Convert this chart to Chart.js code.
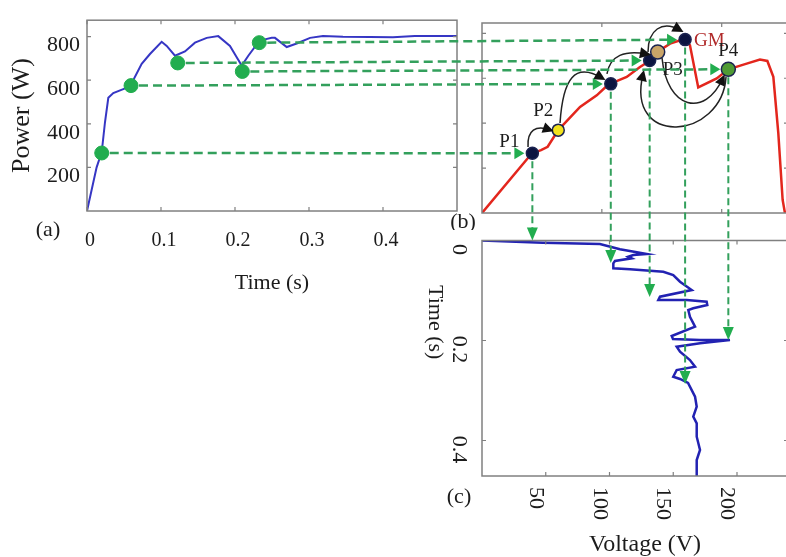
<!DOCTYPE html>
<html>
<head>
<meta charset="utf-8">
<title>MPPT tracking</title>
<script src="https://cdn.jsdelivr.net/npm/chart.js@4.4.1/dist/chart.umd.min.js"></script>
<style>
  html, body { margin: 0; padding: 0; background: #fff; }
  #stage { position: relative; width: 786px; height: 557px; overflow: hidden; }
  #stage canvas { position: absolute; }
</style>
</head>
<body>
<div id="stage">
  <canvas id="chartA" width="470" height="300" style="left:0;top:0"></canvas>
  <canvas id="chartB" width="360" height="230" style="left:440px;top:0"></canvas>
  <canvas id="chartC" width="400" height="331" style="left:400px;top:226px"></canvas>
  <canvas id="overlay" width="786" height="557" style="left:0;top:0"></canvas>
</div>
<script>
// (a) tracked power vs time
const timeA = [0, 0.013, 0.0199, 0.0243, 0.0288, 0.0355, 0.049, 0.0581, 0.0739, 0.0851, 0.1009, 0.1077, 0.1189, 0.1324, 0.1459, 0.1618, 0.1774, 0.1932, 0.2023, 0.2091, 0.218, 0.2293, 0.2405, 0.2496, 0.254, 0.2699, 0.2834, 0.3014, 0.3189, 0.3459, 0.3824, 0.4135, 0.443, 0.5];
const powerA = [0, 200, 270, 407, 519, 541, 559, 571, 675, 720, 776, 757, 712, 732, 772, 794, 802, 757, 705, 667, 712, 764, 787, 794, 794, 752, 768, 794, 802, 799, 798, 797, 802, 802];

// (b) P-V curve under partial shading
const voltB = [0, 39, 46.3, 51.5, 59.8, 76.9, 90, 100.4, 105.6, 113.5, 123.9, 131, 137.5, 147.5, 159.2, 163.1, 169.6, 184.1, 193.2, 207.6, 218, 223.8, 228.5, 232.4, 235.8, 237.6];
const powerB = [0, 265, 280, 295, 369, 472, 524, 579, 587, 606, 650, 676, 717, 754, 776, 747, 559, 599, 640, 665, 683, 677, 606, 356, 58, 0];

// (c) PV voltage vs time
const voltC = [0, 47.6, 92.5, 108.2, 129.2, 118.7, 114.7, 117.4, 104.3, 103, 103, 116.1, 142.2, 150, 155.3, 164.5, 139.6, 138.3, 160.5, 176.2, 176.7, 165.7, 161.8, 163.1, 167.1, 148.8, 149.8, 171, 194.5, 171, 152.7, 155.3, 163.1, 167.1, 152.7, 150, 155.3, 161.6, 167.1, 168.4, 165.7, 168.4, 168.4, 171, 168.4, 168.4];
const timeC = [0, 0.0044, 0.007, 0.0176, 0.027, 0.029, 0.0324, 0.0356, 0.041, 0.0456, 0.0556, 0.0576, 0.0624, 0.069, 0.0824, 0.099, 0.1124, 0.119, 0.119, 0.1224, 0.129, 0.1356, 0.139, 0.1524, 0.1724, 0.191, 0.197, 0.199, 0.199, 0.2056, 0.2124, 0.2224, 0.239, 0.2524, 0.259, 0.2724, 0.277, 0.285, 0.3124, 0.3324, 0.3524, 0.3656, 0.3924, 0.419, 0.439, 0.471];

// operating points linked across the three panels (P1, -, -, GM, P4)
const opVolt = [39.5, 101, 131.5, 159.3, 193.2];
const opPower = [266, 575, 679, 772, 640];
const opTimeA = [0.0199, 0.0595, 0.1226, 0.2328, 0.2099];
const opTimeC = [0, 0.045, 0.113, 0.287, 0.199];

// points marked on the P-V curve
const markVolt = [39.5, 59.8, 101, 131.5, 137.8, 159.3, 193.2];
const markPower = [266, 369, 575, 679, 717, 772, 640];
const markLabel = ['P1', 'P2', '', '', 'P3', 'GM', 'P4'];

// search moves on the P-V curve: start, control 1, control 2, end as (V, P)
const moves = [
  [36.1, 294, 35.3, 370, 42.4, 392, 53.3, 370],
  [61.2, 401, 63.5, 601, 72.9, 672, 94.1, 601],
  [98, 619, 100.4, 703, 112.2, 726, 129.4, 708],
  [130.2, 717, 130.2, 815, 141.2, 859, 155.3, 815],
  [141.2, 690, 145.1, 459, 174.9, 423, 189, 601],
  [191.4, 606, 188.2, 325, 112.2, 289, 126.3, 619]
];

// ticks
const timeTicksA = [0, 0.1, 0.2, 0.3, 0.4];
const powerTicksA = [200, 400, 600, 800];
const voltTicksB = [94, 188];
const powerTicksB = [200, 400, 600, 800];
const voltTicksC = [50, 100, 150, 200];
const timeTicksC = [0, 0.2, 0.4];

const SERIF = "'Liberation Serif', 'Times New Roman', serif";
const INK = '#1c1c1c';
const GREEN = '#22ad4f';
const GREEN_LINE = '#33a05c';
const markFill = ['#0c1440', '#f2e21c', '#0c1440', '#0c1440', '#c9a468', '#0c1440', '#4f9a34'];
const labelShift = { P1: [-23, -11], P2: [-15, -19], P3: [15, 18], GM: [9, 1], P4: [0, -18] };

// box with inward tick marks on all four sides
function framePlugin(xTicks, yTicks) {
  return {
    id: 'frame',
    afterDatasetsDraw(chart) {
      const { ctx, chartArea: a, scales: { x, y } } = chart;
      ctx.save();
      ctx.strokeStyle = '#808080';
      ctx.lineWidth = 1.5;
      ctx.strokeRect(a.left, a.top, a.right - a.left, a.bottom - a.top);
      ctx.lineWidth = 1.2;
      ctx.beginPath();
      xTicks.forEach(v => {
        const px = x.getPixelForValue(v);
        ctx.moveTo(px, a.bottom); ctx.lineTo(px, a.bottom - 4);
        ctx.moveTo(px, a.top); ctx.lineTo(px, a.top + 4);
      });
      yTicks.forEach(v => {
        const py = y.getPixelForValue(v);
        ctx.moveTo(a.left, py); ctx.lineTo(a.left + 4, py);
        ctx.moveTo(a.right, py); ctx.lineTo(a.right - 4, py);
      });
      ctx.stroke();
      ctx.restore();
    }
  };
}

function textPlugin(draw) {
  return { id: 'text', afterDraw(chart) { const ctx = chart.ctx; ctx.save(); draw(ctx, chart); ctx.restore(); } };
}

function text(ctx, str, x, y, size, opts = {}) {
  ctx.save();
  ctx.font = size + 'px ' + SERIF;
  ctx.fillStyle = opts.color || INK;
  ctx.textAlign = opts.align || 'center';
  ctx.textBaseline = 'middle';
  ctx.translate(x, y);
  if (opts.rotate) ctx.rotate(opts.rotate);
  ctx.fillText(str, 0, 0);
  ctx.restore();
}

function arrowHead(ctx, tx, ty, ang, len, half) {
  const c = Math.cos(ang), s = Math.sin(ang);
  ctx.beginPath();
  ctx.moveTo(tx, ty);
  ctx.lineTo(tx - len * c + half * s, ty - len * s - half * c);
  ctx.lineTo(tx - len * c - half * s, ty - len * s + half * c);
  ctx.closePath();
  ctx.fill();
}

const common = {
  responsive: false,
  animation: false,
  events: [],
  plugins: { legend: { display: false }, tooltip: { enabled: false } }
};

// (a)
const chartA = new Chart(document.getElementById('chartA'), {
  type: 'scatter',
  data: {
    datasets: [
      { data: opTimeA.map((t, i) => ({ x: t, y: opPower[i] })), pointRadius: 7, pointBackgroundColor: GREEN, pointBorderColor: GREEN, order: 0 },
      { data: timeA.map((t, i) => ({ x: t, y: powerA[i] })), showLine: true, borderColor: '#3636c4', borderWidth: 2, pointRadius: 0, order: 1 }
    ]
  },
  options: {
    ...common,
    layout: { padding: { top: 15, right: 13, left: 0, bottom: 0 } },
    scales: {
      x: {
        type: 'linear', min: 0, max: 0.5,
        afterBuildTicks: s => { s.ticks = timeTicksA.map(v => ({ value: v })); },
        afterFit: s => { s.height = 89; },
        grid: { display: false, drawTicks: false }, border: { display: false },
        ticks: { autoSkip: false, maxRotation: 0, padding: 18, labelOffset: 3, color: INK, font: { family: SERIF, size: 20 } },
        title: { display: true, text: 'Time (s)', color: INK, font: { family: SERIF, size: 22 }, padding: { top: 0, bottom: 4 } }
      },
      y: {
        type: 'linear', min: 0, max: 875,
        afterBuildTicks: s => { s.ticks = powerTicksA.map(v => ({ value: v })); },
        afterFit: s => { s.width = 87; },
        grid: { display: false, drawTicks: false }, border: { display: false },
        ticks: { autoSkip: false, padding: 7, labelOffset: 9, color: INK, font: { family: SERIF, size: 22 } },
        title: { display: true, text: 'Power (W)', color: INK, font: { family: SERIF, size: 26 }, padding: { top: 7, bottom: 0 } }
      }
    }
  },
  plugins: [
    framePlugin(timeTicksA, powerTicksA),
    textPlugin((ctx, chart) => {
      const a = chart.chartArea;
      text(ctx, '(a)', a.left - 39, a.bottom + 19, 22);
    })
  ]
});

// (b)
const chartB = new Chart(document.getElementById('chartB'), {
  type: 'scatter',
  data: {
    datasets: [
      { data: markVolt.map((v, i) => ({ x: v, y: markPower[i] })), pointRadius: [6, 6, 6, 6, 7, 6, 7], pointBackgroundColor: markFill, pointBorderColor: '#1b2350', pointBorderWidth: 1.5, order: 0 },
      { data: voltB.map((v, i) => ({ x: v, y: powerB[i] })), showLine: true, borderColor: '#e3261d', borderWidth: 2.5, pointRadius: 0, order: 1 }
    ]
  },
  options: {
    ...common,
    layout: { padding: { top: 23, right: 12, left: 42, bottom: 17 } },
    scales: {
      x: { type: 'linear', min: 0, max: 240, display: false },
      y: { type: 'linear', min: 0, max: 846, display: false }
    }
  },
  plugins: [
    framePlugin(voltTicksB, powerTicksB),
    textPlugin((ctx, chart) => {
      const { x, y } = chart.scales;
      const a = chart.chartArea;
      // search moves
      ctx.strokeStyle = '#222';
      ctx.fillStyle = '#111';
      ctx.lineWidth = 1.5;
      moves.forEach(m => {
        const p = [];
        for (let k = 0; k < 8; k += 2) p.push([x.getPixelForValue(m[k]), y.getPixelForValue(m[k + 1])]);
        ctx.beginPath();
        ctx.moveTo(p[0][0], p[0][1]);
        ctx.bezierCurveTo(p[1][0], p[1][1], p[2][0], p[2][1], p[3][0], p[3][1]);
        ctx.stroke();
        const ang = Math.atan2(p[3][1] - p[2][1], p[3][0] - p[2][0]);
        arrowHead(ctx, p[3][0] + 4 * Math.cos(ang), p[3][1] + 4 * Math.sin(ang), ang, 11, 5.5);
      });
      // point names
      markLabel.forEach((name, i) => {
        if (!name) return;
        const px = x.getPixelForValue(markVolt[i]) + labelShift[name][0];
        const py = y.getPixelForValue(markPower[i]) + labelShift[name][1];
        if (name === 'GM') text(ctx, name, px, py, 19, { color: '#b02a2a', align: 'left' });
        else text(ctx, name, px, py, 19);
      });
      text(ctx, '(b)', a.left - 19, a.bottom + 9, 22);
    })
  ]
});

// (c)
const chartC = new Chart(document.getElementById('chartC'), {
  type: 'scatter',
  data: {
    datasets: [
      { data: voltC.map((v, i) => ({ x: v, y: timeC[i] })), showLine: true, borderColor: '#2222b2', borderWidth: 2.5, pointRadius: 0 }
    ]
  },
  options: {
    ...common,
    layout: { padding: { top: 14.5, right: 12, left: 82, bottom: 81 } },
    scales: {
      x: { type: 'linear', min: 0, max: 240, display: false },
      y: { type: 'linear', min: 0, max: 0.471, reverse: true, display: false }
    }
  },
  plugins: [
    framePlugin(voltTicksC, timeTicksC),
    textPlugin((ctx, chart) => {
      const { x, y } = chart.scales;
      const a = chart.chartArea;
      const cw = Math.PI / 2;
      timeTicksC.forEach(v => text(ctx, String(v), a.left - 23, y.getPixelForValue(v) + 9, 22, { rotate: cw }));
      voltTicksC.forEach(v => text(ctx, String(v), x.getPixelForValue(v) - 10, a.bottom + 11, 22, { rotate: cw, align: 'left' }));
      text(ctx, 'Time (s)', a.left - 47, (a.top + a.bottom) / 2 - 36, 22, { rotate: cw });
      text(ctx, 'Voltage (V)', (a.left + a.right) / 2 + 10, a.bottom + 69, 24);
      text(ctx, '(c)', a.left - 23, a.bottom + 21, 22);
    })
  ]
});

// dashed links: (a) -> (b) at equal power, (b) -> (c) at equal voltage
function toStage(chart, xv, yv) {
  return {
    x: chart.canvas.offsetLeft + chart.scales.x.getPixelForValue(xv),
    y: chart.canvas.offsetTop + chart.scales.y.getPixelForValue(yv)
  };
}

const ov = document.getElementById('overlay').getContext('2d');
ov.fillStyle = GREEN;
ov.strokeStyle = GREEN_LINE;
opVolt.forEach((v, i) => {
  const pa = toStage(chartA, opTimeA[i], opPower[i]);
  const pb = toStage(chartB, v, opPower[i]);
  const pc = toStage(chartC, v, opTimeC[i]);

  const ang = Math.atan2(pb.y - pa.y, pb.x - pa.x);
  const tipX = pb.x - 8 * Math.cos(ang), tipY = pb.y - 8 * Math.sin(ang);
  ov.lineWidth = 2.5;
  ov.setLineDash([9, 5]);
  ov.beginPath();
  ov.moveTo(pa.x + 8, pa.y);
  ov.lineTo(tipX - 9 * Math.cos(ang), tipY - 9 * Math.sin(ang));
  ov.stroke();
  ov.setLineDash([]);
  arrowHead(ov, tipX, tipY, ang, 10, 6);

  ov.lineWidth = 2;
  ov.setLineDash([7, 4]);
  ov.beginPath();
  ov.moveTo(pb.x, pb.y + 8);
  ov.lineTo(pc.x, pc.y - 12);
  ov.stroke();
  ov.setLineDash([]);
  arrowHead(ov, pc.x, pc.y, Math.PI / 2, 13, 5.5);
});
</script>
</body>
</html>
